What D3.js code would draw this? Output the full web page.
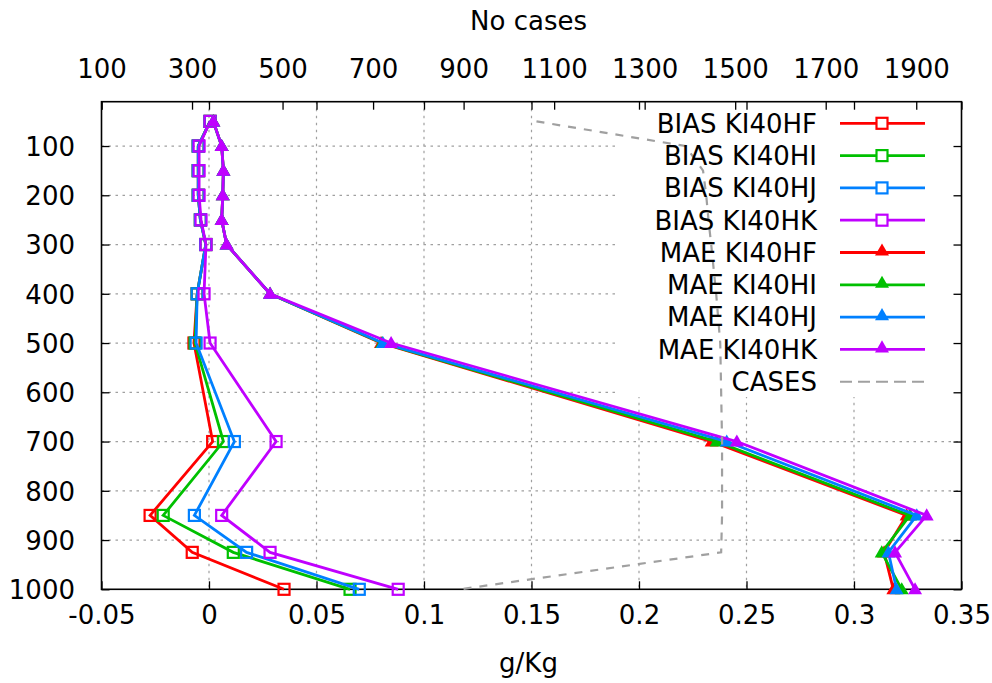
<!DOCTYPE html>
<html>
<head>
<meta charset="utf-8">
<script src="https://cdn.jsdelivr.net/npm/d3@7"></script>
<style>
  html, body { margin: 0; padding: 0; background: #fff; }
  svg { display: block; }
  text { font-family: "DejaVu Sans", sans-serif; fill: #000; }
</style>
</head>
<body>
<svg id="chart" width="992" height="683"></svg>
<script>
// ---------------- data ----------------
const levels = [50, 100, 150, 200, 250, 300, 400, 500, 700, 850, 925, 1000];

const biasHF = [0.0005, -0.005, -0.005, -0.005, -0.004, -0.0015, -0.0055, -0.007, 0.0017, -0.0274, -0.0078, 0.0349];
const biasHI = [0.0005, -0.005, -0.005, -0.005, -0.004, -0.0015, -0.0055, -0.0065, 0.0067, -0.0213, 0.0113, 0.0656];
const biasHJ = [0.0005, -0.005, -0.005, -0.005, -0.004, -0.0015, -0.0055, -0.006, 0.0118, -0.0068, 0.0175, 0.0699];
const biasHK = [0.0005, -0.0046, -0.0046, -0.0046, -0.0037, -0.0014, -0.0023, 0.0005, 0.0312, 0.0059, 0.0284, 0.0880];

const maeHF = [0.002, 0.0059, 0.0067, 0.0064, 0.0059, 0.0082, 0.0284, 0.0800, 0.2338, 0.3245, 0.3140, 0.3183];
const maeHI = [0.002, 0.0059, 0.0067, 0.0064, 0.0059, 0.0082, 0.0284, 0.0805, 0.2361, 0.3260, 0.3129, 0.3222];
const maeHJ = [0.002, 0.0059, 0.0067, 0.0064, 0.0059, 0.0082, 0.0284, 0.0809, 0.2408, 0.3292, 0.3160, 0.3198];
const maeHK = [0.002, 0.0059, 0.0067, 0.0064, 0.0059, 0.0082, 0.0284, 0.0847, 0.2455, 0.3338, 0.3191, 0.3284];

const cases = [1061, 1390, 1429, 1436, 1441, 1447, 1458, 1467, 1471, 1471, 1469, 892];

const xTicks = [-0.05, 0, 0.05, 0.1, 0.15, 0.2, 0.25, 0.3, 0.35];
const x2Ticks = [100, 300, 500, 700, 900, 1100, 1300, 1500, 1700, 1900];
const yTicks = [100, 200, 300, 400, 500, 600, 700, 800, 900, 1000];

const seriesNames = ["BIAS KI40HF", "BIAS KI40HI", "BIAS KI40HJ", "BIAS KI40HK",
                     "MAE KI40HF", "MAE KI40HI", "MAE KI40HJ", "MAE KI40HK", "CASES"];
const seriesColors = ["#ff0000", "#00c000", "#0080ff", "#c000ff",
                      "#ff0000", "#00c000", "#0080ff", "#c000ff", "#a0a0a0"];

// ---------------- layout ----------------
const L = 101.5, R = 961.5, T = 101.7, B = 589.3;
const FS = 26;

const svg = d3.select("#chart");

const x = d3.scaleLinear().domain([-0.05, 0.35]).range([L, R]);
const x2 = d3.scaleLinear().domain([100, 2000]).range([L, R]);
const y = d3.scaleLinear().domain([10, 1000]).range([T, B]);

// grid
const grid = svg.append("g").attr("stroke", "#a0a0a0").attr("stroke-width", 1.2)
  .attr("stroke-dasharray", "2.5,4.5").attr("fill", "none");
yTicks.filter(v => v < 1000).forEach(v => {
  grid.append("line").attr("x1", L).attr("x2", R).attr("y1", y(v)).attr("y2", y(v));
});
xTicks.filter(v => v > -0.05 && v < 0.35).forEach(v => {
  grid.append("line").attr("x1", x(v)).attr("x2", x(v)).attr("y1", T).attr("y2", B);
});

// opaque legend area
svg.append("rect").attr("x", 615).attr("y", T).attr("width", R - 615).attr("height", 397 - T)
  .attr("fill", "#fff");

// axes
const fmtX = v => (Math.abs(v) < 1e-9 ? "0" : String(+v.toFixed(2)));
const axB = svg.append("g").attr("transform", `translate(0,${B})`)
  .call(d3.axisBottom(x).tickValues(xTicks).tickFormat(fmtX).tickSize(-8).tickSizeOuter(0));
const axTop1 = svg.append("g").attr("transform", `translate(0,${T})`)
  .call(d3.axisTop(x).tickValues(xTicks).tickFormat("").tickSize(-8).tickSizeOuter(0));
const axT = svg.append("g").attr("transform", `translate(0,${T})`)
  .call(d3.axisTop(x2).tickValues(x2Ticks).tickFormat(d3.format("d")).tickSize(-8).tickSizeOuter(0));
const axL = svg.append("g").attr("transform", `translate(${L},0)`)
  .call(d3.axisLeft(y).tickValues(yTicks).tickFormat(d3.format("d")).tickSize(-8).tickSizeOuter(0));
const axR = svg.append("g").attr("transform", `translate(${R},0)`)
  .call(d3.axisRight(y).tickValues(yTicks).tickFormat("").tickSize(-8).tickSizeOuter(0));

[axB, axTop1, axT, axL, axR].forEach(g => {
  g.select(".domain").remove();
  g.selectAll(".tick line").attr("stroke", "#000").attr("stroke-width", 1.3);
  g.selectAll("text").attr("font-size", FS).attr("font-family", "DejaVu Sans").attr("fill", "#000");
});
axB.selectAll("text").attr("y", 35).attr("dy", null);
axT.selectAll("text").attr("y", -23.5).attr("dy", null);
axL.selectAll("text").attr("x", -26.5).attr("dy", "0.36em");

// border
svg.append("rect").attr("x", L).attr("y", T).attr("width", R - L).attr("height", B - T)
  .attr("fill", "none").attr("stroke", "#000").attr("stroke-width", 1.6);

// titles
svg.append("text").attr("x", (L + R) / 2 - 3).attr("y", 30).attr("text-anchor", "middle")
  .attr("font-size", FS).text("No cases");
svg.append("text").attr("x", (L + R) / 2 - 3).attr("y", 672).attr("text-anchor", "middle")
  .attr("font-size", FS).text("g/Kg");

// data
const biasSeries = [biasHF, biasHI, biasHJ, biasHK];
const maeSeries = [maeHF, maeHI, maeHJ, maeHK];
const line = d3.line().x(d => x(d[0])).y(d => y(d[1]));
const lineCases = d3.line().x(d => x2(d[0])).y(d => y(d[1]));
const triPath = d3.symbol().type(d3.symbolTriangle).size(85)();

const plot = svg.append("g");

biasSeries.forEach((s, i) => {
  const pts = s.map((v, j) => [v, levels[j]]);
  const g = plot.append("g");
  g.append("path").datum(pts).attr("d", line).attr("fill", "none")
    .attr("stroke", seriesColors[i]).attr("stroke-width", 2.8).attr("stroke-linejoin", "miter");
  g.selectAll("rect").data(pts).join("rect")
    .attr("x", d => x(d[0]) - 5.5).attr("y", d => y(d[1]) - 5.5)
    .attr("width", 11).attr("height", 11)
    .attr("fill", "none").attr("stroke", seriesColors[i]).attr("stroke-width", 2.2);
});

maeSeries.forEach((s, i) => {
  const pts = s.map((v, j) => [v, levels[j]]);
  const g = plot.append("g");
  g.append("path").datum(pts).attr("d", line).attr("fill", "none")
    .attr("stroke", seriesColors[4 + i]).attr("stroke-width", 2.8);
  g.selectAll("path.m").data(pts).join("path").attr("class", "m")
    .attr("d", triPath)
    .attr("transform", d => `translate(${x(d[0])},${y(d[1]) + 1})`)
    .attr("fill", seriesColors[4 + i]);
});

const casePts = cases.map((v, j) => [v, levels[j]]);
plot.append("path").datum(casePts).attr("d", lineCases).attr("fill", "none")
  .attr("stroke", seriesColors[8]).attr("stroke-width", 2.2).attr("stroke-dasharray", "8,8");

// legend
const legend = svg.append("g");
seriesNames.forEach((name, i) => {
  const yy = 123.3 + i * 32.3;
  legend.append("text").attr("x", 817).attr("y", yy).attr("dy", "0.36em")
    .attr("text-anchor", "end").attr("font-size", FS).text(name);
  const ln = legend.append("line").attr("x1", 840).attr("x2", 925).attr("y1", yy).attr("y2", yy)
    .attr("stroke", seriesColors[i]).attr("stroke-width", i === 8 ? 2 : 2.8);
  if (i === 8) ln.attr("stroke-dasharray", "12,6");
  if (i < 4) {
    legend.append("rect").attr("x", 882 - 5.5).attr("y", yy - 5.5).attr("width", 11).attr("height", 11)
      .attr("fill", "#fff").attr("stroke", seriesColors[i]).attr("stroke-width", 2.2);
  } else if (i < 8) {
    legend.append("path").attr("d", triPath).attr("transform", `translate(882,${yy - 1})`)
      .attr("fill", seriesColors[i]);
  }
});
</script>
</body>
</html>
